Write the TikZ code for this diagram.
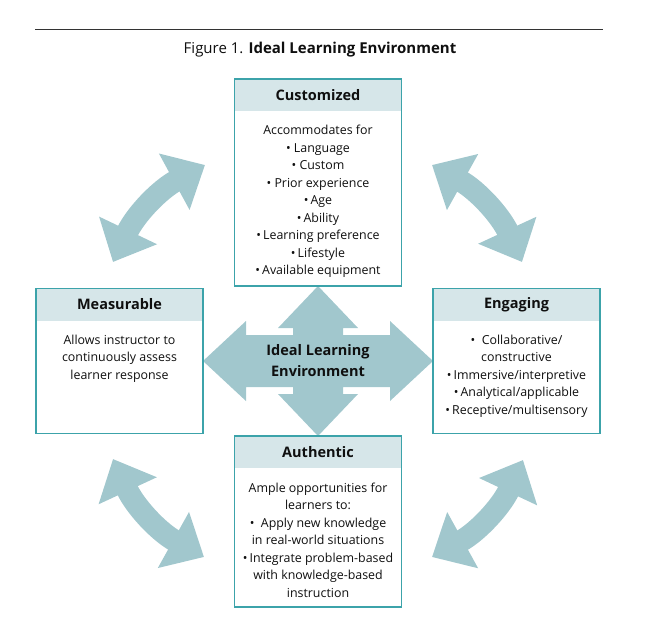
\documentclass[tikz,border=0pt]{standalone}
\usepackage{fontspec}
\setmainfont{Open Sans}
\usetikzlibrary{positioning,arrows.meta,backgrounds}
\definecolor{framecol}{RGB}{60,163,170}
\definecolor{headcol}{RGB}{214,230,233}
\definecolor{arrowcol}{RGB}{161,199,205}
\definecolor{textcol}{RGB}{15,15,15}
\begin{document}
\begin{tikzpicture}[x=1pt, y=-1pt, node distance=0pt,
    every node/.style={text=textcol, outer sep=0pt},
    boxframe/.style={draw=framecol, line width=1.5pt, minimum width=167pt, inner sep=0pt},
    boxhead/.style={fill=headcol, minimum width=167pt, minimum height=32pt, inner sep=0pt, font=\fontsize{14.5}{17}\selectfont\bfseries},
    boxbody/.style={align=center, inner sep=0pt, font=\fontsize{12.4}{17.5}\selectfont},
    bigarrow/.style={color=arrowcol, line width=22pt, arrows={Triangle[width=62pt,length=35pt]-Triangle[width=62pt,length=35pt]}}]
    \useasboundingbox (0,0) rectangle (650,630);
    % title and rule
    \draw[line width=1pt, black!80] (35,29) -- (603,29);
    \node[font=\fontsize{15}{18}\selectfont] (title) at (320,50) {Figure 1. \textbf{Ideal Learning Environment}};
    % centre arrow
    \coordinate (c) at (318,361);
    \fill[arrowcol, shift={(c)}] (0,-75) -- (40,-33) -- (25,-33) -- (25,-26) -- (72,-26) -- (72,-40) -- (115,0) -- (72,40) -- (72,26) -- (25,26) -- (25,33) -- (40,33) -- (0,75) -- (-40,33) -- (-25,33) -- (-25,26) -- (-72,26) -- (-72,40) -- (-115,0) -- (-72,-40) -- (-72,-26) -- (-25,-26) -- (-25,-33) -- (-40,-33) -- cycle;
    \node[minimum width=230pt, minimum height=150pt, align=center, font=\fontsize{14.5}{21}\selectfont\bfseries] (ile) at (c) {Ideal Learning\\Environment};
    % boxes
    \node[boxframe, minimum height=207pt, above=of ile] (cust) {};
    \node[boxframe, minimum height=145pt, left=of ile] (meas) {};
    \node[boxframe, minimum height=145pt, right=of ile] (eng) {};
    \node[boxframe, minimum height=171pt, below=of ile] (auth) {};
    \begin{scope}[on background layer]
        \node[boxhead, below=of cust.north] (custh) {Customized};
        \node[boxhead, below=of meas.north] (meash) {Measurable};
        \node[boxhead, below=of eng.north] (engh) {Engaging};
        \node[boxhead, below=of auth.north] (authh) {Authentic};
    \end{scope}
    \node[boxbody, below=14.5pt of custh] (custb) {Accommodates for\\\textbullet\ Language\\\textbullet\ Custom\\\textbullet\ Prior experience\\\textbullet\,Age\\\textbullet\,Ability\\\textbullet\,Learning preference\\\textbullet\,Lifestyle\\\textbullet\,Available equipment};
    \node[boxbody, below=14.5pt of meash] (measb) {Allows instructor to\\continuously assess\\learner response};
    \node[boxbody, below=14.5pt of engh] (engb) {\textbullet\ \ Collaborative/\\constructive\\\textbullet\,Immersive/interpretive\\\textbullet\,Analytical/applicable\\\textbullet\,Receptive/multisensory};
    \node[boxbody, below=14.5pt of authh] (authb) {Ample opportunities for\\learners to:\\\textbullet\ \ Apply new knowledge\\in real-world situations\\\textbullet\,Integrate problem-based\\with knowledge-based\\instruction};
    % curved arrows
    \coordinate (ul1) at (205,165);
    \coordinate (ul2) at (113,262);
    \coordinate (ur1) at (432,165);
    \coordinate (ur2) at (522,262);
    \coordinate (ll1) at (113,459);
    \coordinate (ll2) at (204,557);
    \coordinate (lr1) at (523,460);
    \coordinate (lr2) at (432,557);
    \draw[bigarrow] (ul1) to[bend right=18] (ul2);
    \draw[bigarrow] (ur1) to[bend left=18] (ur2);
    \draw[bigarrow] (ll1) to[bend right=18] (ll2);
    \draw[bigarrow] (lr1) to[bend left=18] (lr2);
\end{tikzpicture}
\end{document}
